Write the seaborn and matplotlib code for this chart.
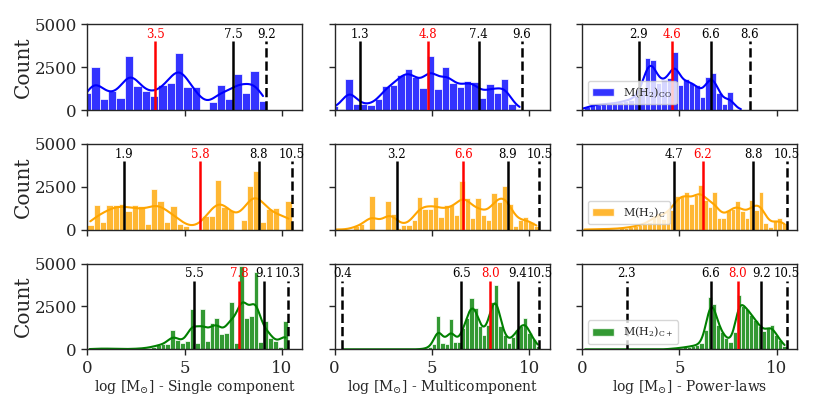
import numpy as np
import pandas as pd
import matplotlib
matplotlib.use("Agg")
import matplotlib.pyplot as plt
import matplotlib.patches as mpatches
import seaborn as sns

# ---------------- data ----------------
# Row 1 : M(H2)_CO
co_single_start, co_single_width = -0.22, 0.43
co_single_counts = [1010, 2490, 640, 1130, 680, 3150, 1400, 1130, 820, 1460, 1600,
                    3350, 1320, 1360, 0, 490, 1440, 640, 2100, 990, 2280, 500]
co_multi_start, co_multi_width = -0.22, 0.381
co_multi_counts = [250, 60, 1810, 350, 350, 290, 620, 1400, 1460, 2020, 2370, 1900,
                   1300, 3150, 1200, 2490, 1560, 1320, 1710, 1650, 720, 1520, 970,
                   1790, 330, 50]
co_power_start, co_power_width = -0.154, 0.2816
co_power_counts = [50, 150, 300, 300, 350, 350, 400, 450, 550, 600, 800, 1260, 3020,
                   2920, 1560, 1750, 1850, 3370, 1460, 1790, 1560, 1460, 780, 1900,
                   2180, 970, 350, 1030, 30, 10]

# Row 2 : M(H2)_C
c_single_start, c_single_width = 0.0, 0.328
c_single_counts = [250, 1450, 450, 1430, 1450, 1500, 1070, 1430, 1360, 350, 2360,
                   1670, 470, 1400, 350, 190, 0, 0, 810, 810, 2870, 1320, 1160, 0,
                   540, 2560, 3450, 470, 1200, 1280, 0, 1690]
c_multi_start, c_multi_width = -0.125, 0.2723
c_multi_counts = [10, 20, 0, 0, 230, 350, 0, 1940, 0, 0, 1700, 900, 100, 290, 290,
                  540, 1880, 1200, 1200, 1880, 740, 1410, 1450, 870, 2810, 1840, 680,
                  1840, 870, 580, 2130, 1590, 2560, 1510, 190, 580, 720, 450, 200]
c_power_start, c_power_width = 0.0, 0.2386
c_power_counts = [10, 15, 20, 25, 30, 40, 50, 60, 80, 120, 150, 190, 290, 330, 430,
                  775, 970, 620, 1160, 1160, 1980, 1980, 2210, 1510, 2030, 2620, 1740,
                  1300, 2170, 680, 700, 1160, 1200, 1690, 1070, 680, 1740, 1120, 2190,
                  390, 155, 540, 680, 390]

# Row 3 : M(H2)_C+
cp_single_start, cp_single_width = 0.0, 0.2512
cp_single_counts = [20, 30, 40, 50, 40, 30, 20, 20, 20, 30, 40, 60, 100, 150,
                    250, 290, 330, 1120, 540, 350, 500, 2380, 350, 2330, 480, 1550,
                    1800, 870, 950, 2770, 350, 4840, 1840, 1960, 4480, 440, 1650, 640,
                    480, 155, 1650]
cp_multi_start, cp_multi_width = 0.330, 0.2126
cp_multi_counts = [5] + [0] * 18 + [20, 50, 120,
                   310, 1940, 350, 310, 1760, 410, 450, 1220, 1840, 3000, 2420, 1380,
                   830, 1420, 2770, 3740, 1360, 830, 350, 740, 1120, 1360, 1840, 930,
                   580, 200]
cp_power_start, cp_power_width = 0.05, 0.2133
cp_power_counts = [0] * 10 + [5] + [0] * 9 + [20, 40, 60, 90, 120, 160, 200,
                   250, 350, 1100, 3060, 2670, 1410, 990, 640, 410, 1030, 3160, 2540,
                   2380, 2030, 1700, 1380, 1070, 1220, 1410, 830, 540, 200]

# marker values per panel: (value, kind) kind: 'p' percentile, 'm' median, 'e' extreme
co_single_marks = [(3.5, 'm'), (7.5, 'p'), (9.2, 'e')]
co_multi_marks = [(1.3, 'p'), (4.8, 'm'), (7.4, 'p'), (9.6, 'e')]
co_power_marks = [(2.9, 'p'), (4.6, 'm'), (6.6, 'p'), (8.6, 'e')]
c_single_marks = [(1.9, 'p'), (5.8, 'm'), (8.8, 'p'), (10.5, 'e')]
c_multi_marks = [(3.2, 'p'), (6.6, 'm'), (8.9, 'p'), (10.5, 'e')]
c_power_marks = [(4.7, 'p'), (6.2, 'm'), (8.8, 'p'), (10.5, 'e')]
cp_single_marks = [(5.5, 'p'), (7.8, 'm'), (9.1, 'p'), (10.3, 'e')]
cp_multi_marks = [(0.4, 'e'), (6.5, 'p'), (8.0, 'm'), (9.4, 'p'), (10.5, 'e')]
cp_power_marks = [(2.3, 'e'), (6.6, 'p'), (8.0, 'm'), (9.2, 'p'), (10.5, 'e')]

row_labels = [r"M(H$_2$)$_{\rm CO}$", r"M(H$_2$)$_{\rm C}$", r"M(H$_2$)$_{\rm C+}$"]
row_colors = ["blue", "orange", "green"]
col_xlabels = [r"log [M$_{\odot}$] - Single component",
               r"log [M$_{\odot}$] - Multicomponent",
               r"log [M$_{\odot}$] - Power-laws"]

panels = [
    [(co_single_start, co_single_width, co_single_counts, co_single_marks),
     (co_multi_start, co_multi_width, co_multi_counts, co_multi_marks),
     (co_power_start, co_power_width, co_power_counts, co_power_marks)],
    [(c_single_start, c_single_width, c_single_counts, c_single_marks),
     (c_multi_start, c_multi_width, c_multi_counts, c_multi_marks),
     (c_power_start, c_power_width, c_power_counts, c_power_marks)],
    [(cp_single_start, cp_single_width, cp_single_counts, cp_single_marks),
     (cp_multi_start, cp_multi_width, cp_multi_counts, cp_multi_marks),
     (cp_power_start, cp_power_width, cp_power_counts, cp_power_marks)],
]

# ---------------- style ----------------
sns.set_theme(style="ticks")
plt.rcParams["font.family"] = ["DejaVu Serif"]
plt.rcParams["mathtext.fontset"] = "dejavuserif"
plt.rcParams["axes.linewidth"] = 1.0
plt.rcParams["xtick.major.size"] = 4
plt.rcParams["ytick.major.size"] = 4
plt.rcParams["xtick.major.width"] = 1.0
plt.rcParams["ytick.major.width"] = 1.0

fig, axes = plt.subplots(3, 3, figsize=(8.22, 4.11), dpi=100, sharex=True, sharey=True)
fig.subplots_adjust(left=0.106, right=0.97, top=0.941, bottom=0.15,
                    wspace=0.149, hspace=0.395)

for r in range(3):
    for c in range(3):
        ax = axes[r, c]
        start, width, counts, marks = panels[r][c]
        counts = [float(v) for v in counts]
        edges = [float(start + width * i) for i in range(len(counts) + 1)]
        centers = [0.5 * (edges[i] + edges[i + 1]) for i in range(len(counts))]
        df = pd.DataFrame({"x": centers, "w": counts})
        bw = float(1.25 * sum(counts) ** (-0.2))
        sns.histplot(data=df, x="x", weights="w", bins=edges, kde=True,
                     color=row_colors[r], alpha=0.8, edgecolor="white", linewidth=0.5,
                     kde_kws={"bw_method": bw},
                     line_kws={"lw": 1.5}, ax=ax)
        for val, kind in marks:
            col = "red" if kind == "m" else "black"
            ls = "--" if kind == "e" else "-"
            ax.vlines(val, 0, 4000, colors=col, linestyles=ls, lw=1.8, zorder=5)
            ax.text(val, 4030, f"{val:.1f}", ha="center", va="bottom",
                    fontsize=8.5, color=col, zorder=6)
        for s in ax.spines.values():
            s.set_visible(True)
        ax.set_xlim(0, 11.05)
        ax.set_ylim(0, 5000)
        ax.set_yticks([0, 2500, 5000])
        ax.set_xticks([0, 5, 10])
        ax.tick_params(labelsize=12)
        ax.set_ylabel("Count" if c == 0 else "", fontsize=14.5, labelpad=1)
        ax.set_xlabel(col_xlabels[c] if r == 2 else "", fontsize=10, labelpad=1)
        if c == 2:
            h = mpatches.Patch(facecolor=row_colors[r], alpha=0.8, label=row_labels[r])
            ax.legend(handles=[h], loc="lower left", fontsize=8)

fig.savefig("out.png", dpi=100)
